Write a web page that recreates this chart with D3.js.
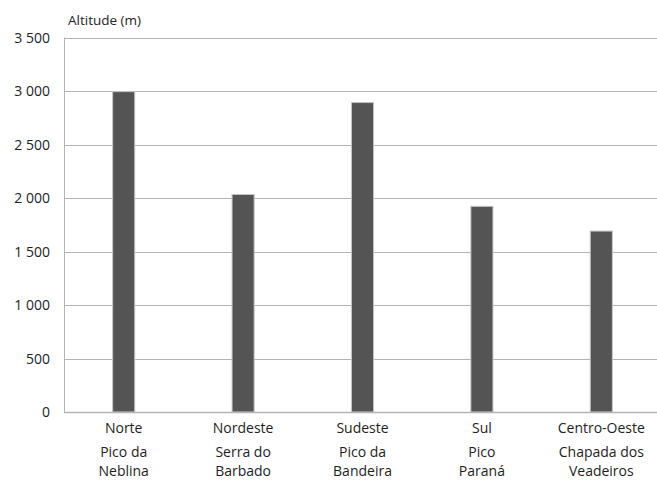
<!DOCTYPE html>
<html><head><meta charset="utf-8">
<script src="https://cdn.jsdelivr.net/npm/d3@7/dist/d3.min.js"></script>
<style>body{margin:0;background:#fff}svg{display:block}text{font-family:"Open Sans",sans-serif;fill:#1e1e1e}</style>
</head><body>
<script>
const regions = ["Norte","Nordeste","Sudeste","Sul","Centro-Oeste"];
const peaks = [["Pico da","Neblina"],["Serra do","Barbado"],["Pico da","Bandeira"],["Pico","Paraná"],["Chapada dos","Veadeiros"]];
const altitudes = [2994, 2033, 2892, 1922, 1691];
const yTicks = [0,500,1000,1500,2000,2500,3000,3500];
const yTitle = "Altitude (m)";

(function(){
const W=657,H=480, mLeft=64, mRight=661, mTop=37.5, mBottom=412;
const svg=d3.select("body").append("svg").attr("width",W).attr("height",H);
const x=d3.scaleBand().domain(regions).range([mLeft,mRight]).padding(0);
const y=d3.scaleLinear().domain([0,3500]).range([mBottom,mTop]);
const fmt=v=>d3.format(",")(v).replace(/,/g," ");

svg.append("g").selectAll("line").data(yTicks.filter(d=>d>0)).join("line")
  .attr("x1",mLeft).attr("x2",W).attr("y1",d=>Math.round(y(d))+0.5).attr("y2",d=>Math.round(y(d))+0.5)
  .attr("stroke","#b4b4b4").attr("stroke-width",1);
svg.append("line").attr("x1",mLeft+0.5).attr("x2",mLeft+0.5).attr("y1",mTop).attr("y2",mBottom)
  .attr("stroke","#b4b4b4");
svg.append("g").selectAll("text").data(yTicks).join("text")
  .attr("x",50).attr("y",d=>y(d)).attr("dy","0.36em").attr("text-anchor","end")
  .style("font-size","14px").text(fmt);
svg.append("text").attr("x",68).attr("y",25).style("font-size","13.5px").text(yTitle);

const bw=x.bandwidth()*0.185;
svg.append("g").selectAll("rect").data(regions).join("rect")
  .attr("x",d=>x(d)+x.bandwidth()/2-bw/2).attr("width",bw)
  .attr("y",(d,i)=>y(altitudes[i])).attr("height",(d,i)=>mBottom-y(altitudes[i]))
  .attr("fill","#545454").attr("stroke","#c4c4c4").attr("stroke-width",1);

svg.append("line").attr("x1",mLeft).attr("x2",W).attr("y1",mBottom+0.5).attr("y2",mBottom+0.5)
  .attr("stroke","#b4b4b4").attr("stroke-width",1.5);

const xl=svg.append("g").selectAll("g").data(regions).join("g")
  .attr("transform",d=>`translate(${x(d)+x.bandwidth()/2},0)`);
xl.append("text").attr("y",433).attr("text-anchor","middle").style("font-size","14px").text(d=>d);
xl.append("text").attr("y",457).attr("text-anchor","middle").style("font-size","14px").text((d,i)=>peaks[i][0]);
xl.append("text").attr("y",475.5).attr("text-anchor","middle").style("font-size","14px").text((d,i)=>peaks[i][1]);
})();
</script>
</body></html>
